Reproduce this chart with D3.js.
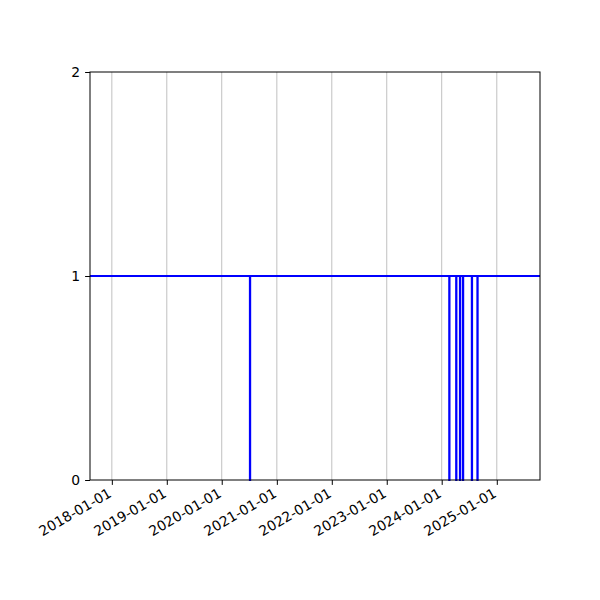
<!DOCTYPE html>
<html>
<head>
<meta charset="UTF-8">
<script src="https://d3js.org/d3.v7.min.js"></script>
<style>
  body { margin: 0; background: #fff; }
  text { font-family: "DejaVu Sans", sans-serif; }
</style>
</head>
<body>
<div id="chart"></div>
<script>
// series points (step after): 1 most of the time, short drops to 0
const dates = [
  "2017-08-09",
  "2020-07-06", "2020-07-08",
  "2024-02-20", "2024-02-22",
  "2024-04-06", "2024-04-08",
  "2024-05-01", "2024-05-03",
  "2024-05-21", "2024-05-23",
  "2024-07-19", "2024-07-21",
  "2024-08-25", "2024-08-27",
  "2025-10-15"
];
const values = [1, 0, 1, 0, 1, 0, 1, 0, 1, 0, 1, 0, 1, 0, 1, 1];
const xTicks = ["2018-01-01", "2019-01-01", "2020-01-01", "2021-01-01",
                "2022-01-01", "2023-01-01", "2024-01-01", "2025-01-01"];
const yTicks = [0, 1, 2];
const xDomain = ["2017-08-09", "2025-10-15"];

const parse = d3.timeParse("%Y-%m-%d");
const fmt = d3.timeFormat("%Y-%m-%d");
const W = 600, H = 600;
const m = {left: 90, right: 60, top: 72, bottom: 120};

const svg = d3.select("#chart").append("svg")
  .attr("width", W).attr("height", H);

const x = d3.scaleTime()
  .domain(xDomain.map(parse))
  .range([m.left, W - m.right]);
const y = d3.scaleLinear()
  .domain([0, 2])
  .range([H - m.bottom, m.top]);

// vertical grid
svg.append("g")
  .selectAll("line")
  .data(xTicks.map(parse))
  .join("line")
  .attr("x1", d => x(d)).attr("x2", d => x(d))
  .attr("y1", m.top).attr("y2", H - m.bottom)
  .attr("stroke", "#b0b0b0").attr("stroke-width", 0.8);

// line
const pts = dates.map((d, i) => ({date: parse(d), v: values[i]}));
const line = d3.line()
  .x(d => x(d.date)).y(d => y(d.v))
  .curve(d3.curveStepAfter);
svg.append("path")
  .datum(pts)
  .attr("d", line)
  .attr("fill", "none")
  .attr("stroke", "#0000ff")
  .attr("stroke-width", 2);

// frame
svg.append("rect")
  .attr("x", m.left).attr("y", m.top)
  .attr("width", W - m.left - m.right)
  .attr("height", H - m.top - m.bottom)
  .attr("fill", "none").attr("stroke", "#000").attr("stroke-width", 1);

// x axis
const xAxis = svg.append("g")
  .attr("transform", `translate(0,${H - m.bottom})`)
  .call(d3.axisBottom(x).tickValues(xTicks.map(parse)).tickFormat(fmt)
    .tickSize(4.9).tickSizeOuter(0));
xAxis.select(".domain").remove();
xAxis.selectAll(".tick line").attr("stroke", "#000").attr("stroke-width", 1);
xAxis.selectAll(".tick text")
  .attr("font-size", 13.9)
  .attr("fill", "#000")
  .attr("text-anchor", "end")
  .attr("dy", null)
  .attr("y", 0)
  .attr("transform", "translate(-5,7) rotate(-30)")
  .attr("dominant-baseline", "hanging");

// y axis
const yAxis = svg.append("g")
  .attr("transform", `translate(${m.left},0)`)
  .call(d3.axisLeft(y).tickValues(yTicks).tickFormat(d3.format("d"))
    .tickSize(4.9).tickSizeOuter(0));
yAxis.select(".domain").remove();
yAxis.selectAll(".tick line").attr("stroke", "#000").attr("stroke-width", 1);
yAxis.selectAll(".tick text")
  .attr("font-size", 13.9)
  .attr("fill", "#000")
  .attr("x", -9.8);
</script>
</body>
</html>
